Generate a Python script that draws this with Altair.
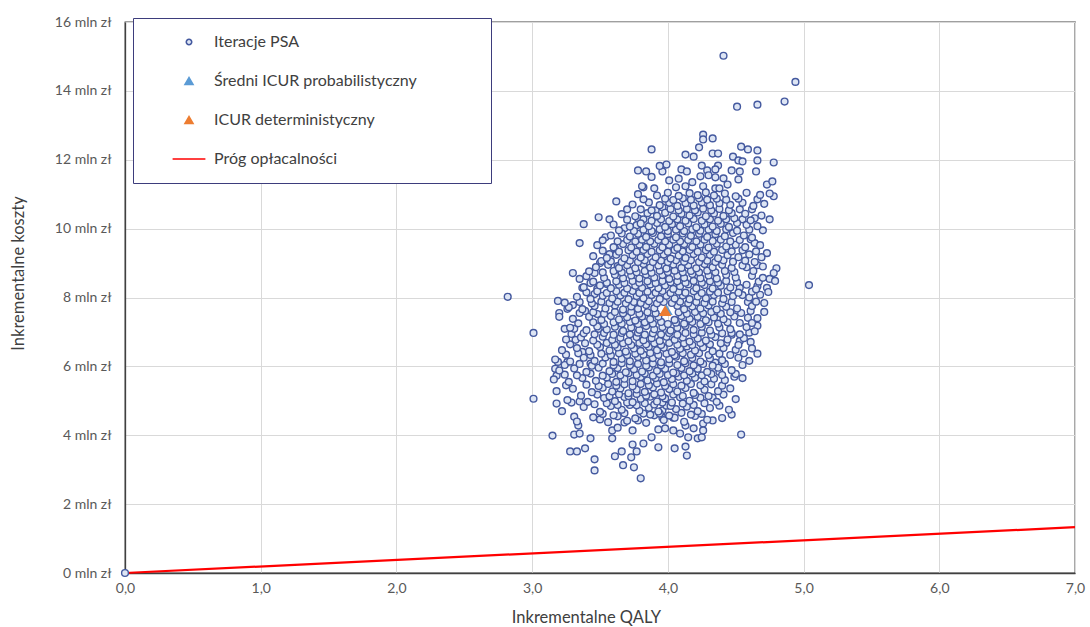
import altair as alt
import pandas as pd

series_names = ["Iteracje PSA", "Średni ICUR probabilistyczny", "ICUR deterministyczny", "Próg opłacalności"]

x_ticks = [0, 1, 2, 3, 4, 5, 6, 7]
y_ticks = [0, 2, 4, 6, 8, 10, 12, 14, 16]

# PSA iterations: (incremental QALY, incremental cost in mln zł)
psa_points = [
    (0.00, 0.00),
    # lower part
    (3.80, 2.75), (3.46, 2.98), (3.67, 3.13), (3.75, 3.07), (3.61, 3.39), (3.46, 3.30), (3.28, 3.53), (3.33, 3.53),
    (3.39, 3.62), (3.73, 3.36), (3.77, 3.53), (3.66, 3.53), (3.74, 3.73), (3.82, 3.76), (3.93, 3.65), (3.59, 3.91),
    (3.43, 3.91), (3.15, 3.99), (3.31, 4.02), (3.35, 4.05), (4.14, 3.41), (4.05, 3.62), (4.13, 3.67), (4.22, 3.91),
    (4.25, 3.94), (4.15, 3.94), (4.54, 4.02), (4.47, 4.60), (4.38, 4.86), (4.49, 5.70), (4.66, 6.37), (4.47, 6.92),
    (4.53, 6.74), (4.61, 6.71), (4.43, 6.68), (4.38, 5.84), (4.35, 6.11), (4.33, 5.09), (4.33, 4.43), (4.26, 4.34),
    (4.26, 4.14), (3.01, 5.06), (3.18, 4.92), (3.29, 4.95), (3.35, 4.98), (3.17, 5.93), (3.19, 6.13), (3.18, 5.73),
    (3.26, 6.13), (3.43, 6.08), (3.37, 6.42), (3.29, 6.94), (3.32, 6.77), (3.31, 4.54), (3.34, 4.28), (3.50, 4.46),
    (3.59, 4.14), (3.63, 4.22), (3.68, 4.37), (3.74, 4.14), (3.78, 4.43), (3.82, 4.63), (3.88, 3.94), (3.93, 4.17),
    (3.96, 4.51), (3.98, 4.20), (4.04, 4.14), (4.09, 4.05), (3.96, 4.72), (4.04, 4.51), (4.13, 4.28), (4.19, 4.20),
    # left edge
    (3.62, 10.79), (3.70, 10.56), (3.49, 10.33), (3.57, 10.27), (3.38, 10.13), (3.35, 9.58), (3.54, 9.75), (3.68, 10.01),
    (3.78, 10.30), (3.82, 10.27), (3.77, 10.10), (3.91, 10.53), (3.96, 10.62), (3.90, 11.17), (3.82, 11.20), (3.30, 8.71),
    (3.46, 8.71), (3.35, 8.54), (3.43, 8.42), (3.37, 8.28), (3.48, 8.25), (3.46, 8.10), (2.82, 8.02), (3.19, 7.90),
    (3.20, 7.55), (3.20, 7.44), (3.26, 7.67), (3.30, 7.78), (3.39, 7.61), (3.48, 7.52), (3.24, 7.09), (3.31, 7.09),
    (3.49, 7.09), (3.01, 6.97), (3.50, 9.00), (3.51, 9.06), (3.57, 9.26), (3.61, 9.43), (3.63, 8.91), (3.55, 8.39),
    # top
    (3.88, 12.30), (3.78, 11.69), (3.84, 11.66), (3.81, 11.23), (3.96, 11.66), (4.41, 15.02), (4.94, 14.26), (4.86, 13.69),
    (4.51, 13.54), (4.66, 13.60), (4.26, 12.73), (4.26, 12.59), (4.33, 12.62), (4.23, 12.36), (4.54, 12.38), (4.59, 12.30),
    (4.66, 12.27), (4.13, 12.15), (4.19, 12.09), (4.33, 12.18), (4.37, 12.18), (4.48, 12.09), (4.52, 11.98), (4.55, 11.95),
    (4.66, 11.98), (4.78, 11.92), (3.99, 11.86), (4.25, 11.83), (4.37, 11.83), (4.10, 11.72), (4.14, 11.66), (4.29, 11.69),
    (4.35, 11.72), (4.47, 11.69), (4.53, 11.66), (4.65, 11.66), (4.24, 11.52), (4.30, 11.55), (4.35, 11.49), (4.41, 11.46),
    (4.44, 11.28), (4.52, 11.43), (4.73, 11.28), (4.77, 11.37), (4.06, 11.20), (4.13, 11.23), (4.26, 11.23), (4.35, 11.17),
    (4.38, 11.17), (3.94, 11.82), (4.01, 11.40), (4.08, 11.45), (4.18, 11.35), (3.88, 11.50),
    # right edge
    (4.78, 10.94), (4.75, 11.02), (4.64, 10.30), (4.75, 10.27), (4.53, 10.56), (4.55, 10.27), (4.51, 10.16), (4.61, 9.69),
    (4.64, 9.58), (4.73, 9.29), (4.69, 9.17), (4.66, 8.94), (4.58, 8.88), (4.80, 8.85), (4.78, 8.71), (4.75, 8.54),
    (4.79, 8.48), (4.66, 8.33), (4.73, 8.28), (4.74, 8.16), (5.04, 8.36), (4.53, 8.28), (4.55, 8.07), (4.59, 7.87),
    (4.71, 7.84), (4.71, 7.58), (4.61, 7.61), (4.59, 7.41), (4.53, 7.26), (4.66, 7.18), (4.47, 6.97), (4.49, 10.30),
    (4.47, 10.45),
    # core
    (3.33, 4.40), (3.45, 4.52), (3.56, 4.38), (3.63, 4.55), (3.70, 4.42), (3.76, 4.49), (3.84, 4.36), (3.90, 4.58),
    (3.97, 4.44), (4.05, 4.51), (4.12, 4.39), (4.20, 4.56), (4.29, 4.45), (4.40, 4.50),
    (3.52, 4.62), (3.60, 4.58), (3.68, 4.64), (3.87, 4.60), (3.94, 4.63), (4.01, 4.57), (4.10, 4.65), (4.17, 4.60), (4.25, 4.62),
    (3.22, 4.70), (3.38, 4.82), (3.50, 4.68), (3.58, 4.85), (3.66, 4.74), (3.72, 4.88), (3.79, 4.71), (3.86, 4.80),
    (3.93, 4.69), (3.99, 4.86), (4.06, 4.76), (4.14, 4.83), (4.22, 4.70), (4.31, 4.79), (4.45, 4.74),
    (3.46, 4.90), (3.55, 4.93), (3.63, 4.88), (3.70, 4.95), (3.77, 4.87), (3.83, 4.93), (3.90, 4.89), (3.96, 4.95),
    (4.02, 4.85), (4.11, 4.92), (4.19, 4.88), (4.27, 4.93),
    (3.26, 5.02), (3.41, 4.97), (3.53, 5.08), (3.61, 4.99), (3.68, 5.11), (3.74, 4.96), (3.80, 5.06), (3.87, 5.12),
    (3.92, 4.98), (3.98, 5.07), (4.03, 4.95), (4.09, 5.10), (4.16, 5.00), (4.24, 5.09), (4.36, 4.97), (4.50, 5.05),
    (3.36, 5.15), (3.48, 5.18), (3.57, 5.13), (3.64, 5.19), (3.71, 5.14), (3.77, 5.20), (3.84, 5.15), (3.90, 5.19),
    (3.96, 5.13), (4.04, 5.18), (4.11, 5.14), (4.20, 5.17), (4.30, 5.14), (4.41, 5.18),
    (3.18, 5.28), (3.30, 5.35), (3.44, 5.25), (3.52, 5.38), (3.59, 5.27), (3.65, 5.36), (3.71, 5.22), (3.77, 5.33),
    (3.83, 5.26), (3.89, 5.39), (3.95, 5.24), (4.01, 5.34), (4.07, 5.27), (4.13, 5.37), (4.19, 5.23), (4.27, 5.32),
    (4.37, 5.28), (4.46, 5.36),
    (3.25, 5.45), (3.40, 5.47), (3.49, 5.43), (3.56, 5.49), (3.62, 5.44), (3.68, 5.48), (3.74, 5.42), (3.80, 5.49),
    (3.86, 5.45), (3.92, 5.50), (3.98, 5.43), (4.04, 5.48), (4.10, 5.44), (4.17, 5.49), (4.24, 5.45), (4.32, 5.48), (4.40, 5.44),
    (3.16, 5.62), (3.27, 5.55), (3.37, 5.66), (3.47, 5.58), (3.55, 5.68), (3.62, 5.55), (3.68, 5.64), (3.74, 5.57),
    (3.80, 5.69), (3.85, 5.59), (3.91, 5.66), (3.97, 5.54), (4.03, 5.63), (4.08, 5.70), (4.14, 5.58), (4.20, 5.67),
    (4.27, 5.56), (4.34, 5.64), (4.42, 5.60), (4.55, 5.66),
    (3.24, 5.76), (3.33, 5.74), (3.43, 5.79), (3.52, 5.73), (3.59, 5.78), (3.65, 5.74), (3.71, 5.80), (3.77, 5.75),
    (3.83, 5.79), (3.89, 5.73), (3.94, 5.78), (4.00, 5.75), (4.06, 5.80), (4.12, 5.74), (4.18, 5.79), (4.25, 5.74),
    (4.32, 5.78), (4.40, 5.75), (4.50, 5.78),
    (3.20, 5.88), (3.31, 5.94), (3.40, 5.84), (3.49, 5.96), (3.57, 5.86), (3.63, 5.95), (3.69, 5.83), (3.75, 5.92),
    (3.81, 5.85), (3.86, 5.97), (3.92, 5.87), (3.98, 5.93), (4.04, 5.82), (4.10, 5.95), (4.16, 5.86), (4.22, 5.93),
    (4.29, 5.84), (4.37, 5.96), (4.47, 5.89),
    (3.24, 6.04), (3.35, 6.07), (3.44, 6.02), (3.52, 6.08), (3.60, 6.03), (3.66, 6.09), (3.72, 6.03), (3.78, 6.07),
    (3.84, 6.02), (3.89, 6.08), (3.95, 6.03), (4.01, 6.08), (4.07, 6.04), (4.13, 6.09), (4.19, 6.03), (4.26, 6.07),
    (4.33, 6.02), (4.42, 6.07), (4.55, 6.04),
    (3.17, 6.20), (3.28, 6.14), (3.38, 6.25), (3.46, 6.16), (3.54, 6.26), (3.60, 6.13), (3.66, 6.22), (3.72, 6.15),
    (3.78, 6.27), (3.84, 6.17), (3.89, 6.24), (3.95, 6.12), (4.01, 6.21), (4.06, 6.28), (4.12, 6.15), (4.18, 6.24),
    (4.24, 6.14), (4.31, 6.23), (4.40, 6.18), (4.52, 6.25), (4.60, 6.16),
    (3.25, 6.34), (3.34, 6.38), (3.43, 6.33), (3.51, 6.37), (3.58, 6.32), (3.64, 6.38), (3.70, 6.33), (3.76, 6.37),
    (3.82, 6.34), (3.87, 6.39), (3.93, 6.33), (3.99, 6.37), (4.05, 6.32), (4.11, 6.38), (4.17, 6.34), (4.23, 6.38),
    (4.30, 6.33), (4.38, 6.37), (4.46, 6.33), (4.56, 6.38),
    (3.22, 6.47), (3.33, 6.53), (3.42, 6.44), (3.50, 6.56), (3.57, 6.46), (3.63, 6.55), (3.69, 6.43), (3.75, 6.52),
    (3.80, 6.45), (3.86, 6.57), (3.92, 6.47), (3.97, 6.54), (4.03, 6.42), (4.09, 6.51), (4.14, 6.58), (4.20, 6.46),
    (4.26, 6.55), (4.33, 6.44), (4.41, 6.53), (4.50, 6.48), (4.62, 6.52),
    (3.28, 6.64), (3.39, 6.67), (3.48, 6.63), (3.55, 6.68), (3.61, 6.63), (3.67, 6.67), (3.73, 6.62), (3.79, 6.68),
    (3.84, 6.64), (3.90, 6.67), (3.95, 6.62), (4.01, 6.68), (4.07, 6.63), (4.12, 6.67), (4.18, 6.62), (4.24, 6.68),
    (4.31, 6.64), (4.39, 6.67), (4.52, 6.62),
    (3.25, 6.78), (3.36, 6.84), (3.45, 6.75), (3.52, 6.86), (3.59, 6.77), (3.65, 6.83), (3.71, 6.73), (3.77, 6.85),
    (3.82, 6.76), (3.88, 6.82), (3.94, 6.74), (3.99, 6.86), (4.05, 6.77), (4.11, 6.84), (4.16, 6.72), (4.22, 6.81),
    (4.28, 6.75), (4.35, 6.85), (4.44, 6.78), (4.56, 6.82),
    (3.38, 6.96), (3.46, 6.93), (3.53, 6.97), (3.60, 6.92), (3.66, 6.97), (3.72, 6.93), (3.78, 6.98), (3.83, 6.92),
    (3.89, 6.96), (3.95, 6.93), (4.01, 6.97), (4.07, 6.92), (4.13, 6.97), (4.19, 6.93), (4.25, 6.98), (4.32, 6.92),
    (4.40, 6.96), (4.53, 6.93), (4.60, 6.98),
    (3.28, 7.12), (3.40, 7.05), (3.48, 7.16), (3.55, 7.07), (3.61, 7.15), (3.67, 7.03), (3.73, 7.13), (3.79, 7.06),
    (3.84, 7.17), (3.90, 7.08), (3.96, 7.14), (4.02, 7.04), (4.07, 7.12), (4.13, 7.18), (4.19, 7.06), (4.25, 7.15),
    (4.31, 7.04), (4.38, 7.13), (4.46, 7.08), (4.58, 7.14), (4.64, 7.02),
    (3.34, 7.25), (3.45, 7.28), (3.53, 7.23), (3.60, 7.28), (3.66, 7.24), (3.72, 7.29), (3.78, 7.23), (3.83, 7.28),
    (3.89, 7.24), (3.95, 7.29), (4.00, 7.23), (4.06, 7.27), (4.12, 7.24), (4.18, 7.29), (4.24, 7.23), (4.30, 7.28),
    (4.37, 7.24), (4.44, 7.28), (4.62, 7.26),
    (3.30, 7.38), (3.42, 7.44), (3.51, 7.35), (3.58, 7.46), (3.64, 7.36), (3.70, 7.43), (3.76, 7.33), (3.81, 7.45),
    (3.87, 7.37), (3.93, 7.44), (4.05, 7.35), (4.10, 7.46), (4.16, 7.38), (4.22, 7.44), (4.28, 7.34), (4.34, 7.42),
    (4.41, 7.37), (4.49, 7.45), (4.66, 7.40),
    (3.35, 7.55), (3.45, 7.57), (3.53, 7.53), (3.61, 7.58), (3.67, 7.54), (3.73, 7.58), (3.79, 7.53), (3.85, 7.57),
    (3.91, 7.54), (4.08, 7.57), (4.14, 7.53), (4.20, 7.58), (4.26, 7.54), (4.32, 7.58), (4.39, 7.53), (4.46, 7.57), (4.54, 7.55),
    (3.27, 7.72), (3.37, 7.66), (3.46, 7.75), (3.54, 7.68), (3.61, 7.77), (3.67, 7.65), (3.73, 7.74), (3.78, 7.67),
    (3.84, 7.78), (3.90, 7.69), (4.07, 7.76), (4.12, 7.66), (4.18, 7.74), (4.24, 7.68), (4.30, 7.77), (4.36, 7.65),
    (4.43, 7.73), (4.51, 7.68), (4.62, 7.75),
    (3.24, 7.85), (3.35, 7.87), (3.44, 7.83), (3.51, 7.88), (3.57, 7.84), (3.63, 7.88), (3.69, 7.83), (3.75, 7.87),
    (3.80, 7.84), (3.86, 7.89), (3.92, 7.83), (3.97, 7.87), (4.03, 7.84), (4.09, 7.88), (4.15, 7.83), (4.21, 7.87),
    (4.27, 7.84), (4.33, 7.88), (4.40, 7.83), (4.47, 7.87), (4.65, 7.88),
    (3.33, 8.02), (3.43, 7.96), (3.52, 8.05), (3.59, 7.97), (3.65, 8.06), (3.71, 7.95), (3.77, 8.04), (3.82, 7.98),
    (3.88, 8.07), (3.94, 7.96), (3.99, 8.05), (4.05, 7.97), (4.11, 8.06), (4.16, 7.95), (4.22, 8.03), (4.28, 7.98),
    (4.34, 8.07), (4.41, 7.96), (4.48, 8.04), (4.60, 8.00), (4.68, 8.08),
    (3.40, 8.15), (3.48, 8.18), (3.55, 8.13), (3.62, 8.18), (3.68, 8.14), (3.74, 8.19), (3.79, 8.13), (3.85, 8.17),
    (3.91, 8.14), (3.96, 8.19), (4.02, 8.13), (4.08, 8.17), (4.13, 8.14), (4.19, 8.18), (4.25, 8.13), (4.31, 8.17),
    (4.37, 8.14), (4.44, 8.18), (4.52, 8.14), (4.62, 8.17),
    (3.38, 8.30), (3.50, 8.35), (3.58, 8.27), (3.64, 8.37), (3.70, 8.26), (3.76, 8.34), (3.81, 8.28), (3.87, 8.38),
    (3.93, 8.27), (3.98, 8.35), (4.04, 8.25), (4.09, 8.33), (4.15, 8.38), (4.21, 8.27), (4.27, 8.36), (4.33, 8.26),
    (4.39, 8.34), (4.46, 8.29), (4.58, 8.37), (4.65, 8.24),
    (3.45, 8.46), (3.55, 8.43), (3.62, 8.47), (3.68, 8.42), (3.74, 8.48), (3.79, 8.43), (3.85, 8.47), (3.91, 8.42),
    (3.96, 8.48), (4.02, 8.44), (4.07, 8.47), (4.13, 8.43), (4.19, 8.48), (4.25, 8.43), (4.31, 8.47), (4.37, 8.43),
    (4.43, 8.48), (4.51, 8.44), (4.67, 8.46),
    (3.40, 8.62), (3.53, 8.57), (3.61, 8.66), (3.67, 8.56), (3.73, 8.64), (3.79, 8.55), (3.84, 8.67), (3.90, 8.58),
    (3.96, 8.65), (4.01, 8.54), (4.07, 8.63), (4.12, 8.57), (4.18, 8.68), (4.24, 8.56), (4.30, 8.64), (4.36, 8.55),
    (4.43, 8.66), (4.50, 8.58), (4.62, 8.63), (4.70, 8.57),
    (3.42, 8.76), (3.52, 8.73), (3.60, 8.77), (3.66, 8.73), (3.72, 8.78), (3.77, 8.73), (3.83, 8.77), (3.88, 8.72),
    (3.94, 8.78), (4.00, 8.74), (4.05, 8.78), (4.11, 8.73), (4.17, 8.77), (4.23, 8.73), (4.29, 8.78), (4.35, 8.73),
    (4.42, 8.77), (4.49, 8.74), (4.63, 8.77),
    (3.47, 8.88), (3.56, 8.95), (3.64, 8.86), (3.70, 8.94), (3.76, 8.85), (3.82, 8.97), (3.87, 8.87), (3.93, 8.93),
    (3.99, 8.84), (4.04, 8.96), (4.10, 8.86), (4.15, 8.94), (4.21, 8.85), (4.27, 8.97), (4.33, 8.88), (4.40, 8.95),
    (4.47, 8.86), (4.55, 8.93), (4.70, 8.90),
    (3.58, 9.05), (3.66, 9.03), (3.72, 9.07), (3.78, 9.03), (3.83, 9.08), (3.89, 9.03), (3.95, 9.07), (4.00, 9.03),
    (4.06, 9.08), (4.12, 9.04), (4.17, 9.08), (4.23, 9.03), (4.29, 9.07), (4.35, 9.03), (4.41, 9.08), (4.48, 9.04),
    (4.57, 9.07), (4.64, 9.03),
    (3.45, 9.20), (3.55, 9.15), (3.62, 9.24), (3.68, 9.14), (3.74, 9.23), (3.80, 9.16), (3.85, 9.26), (3.91, 9.17),
    (3.97, 9.25), (4.02, 9.13), (4.08, 9.22), (4.13, 9.15), (4.19, 9.26), (4.25, 9.16), (4.31, 9.24), (4.37, 9.14),
    (4.44, 9.23), (4.52, 9.17), (4.60, 9.25),
    (3.52, 9.36), (3.64, 9.33), (3.71, 9.37), (3.77, 9.33), (3.82, 9.38), (3.88, 9.33), (3.94, 9.37), (4.00, 9.33),
    (4.05, 9.38), (4.11, 9.34), (4.16, 9.38), (4.22, 9.33), (4.28, 9.37), (4.34, 9.33), (4.40, 9.38), (4.47, 9.34),
    (4.55, 9.37), (4.65, 9.34),
    (3.48, 9.52), (3.60, 9.46), (3.67, 9.55), (3.73, 9.45), (3.79, 9.54), (3.84, 9.47), (3.90, 9.56), (3.96, 9.46),
    (4.01, 9.53), (4.07, 9.44), (4.12, 9.55), (4.18, 9.47), (4.24, 9.54), (4.30, 9.45), (4.36, 9.56), (4.43, 9.48),
    (4.50, 9.53), (4.57, 9.46), (4.68, 9.52),
    (3.52, 9.66), (3.63, 9.63), (3.70, 9.67), (3.76, 9.63), (3.81, 9.68), (3.87, 9.63), (3.93, 9.67), (3.98, 9.63),
    (4.04, 9.68), (4.09, 9.63), (4.15, 9.67), (4.21, 9.63), (4.27, 9.68), (4.33, 9.64), (4.39, 9.68), (4.46, 9.63), (4.53, 9.67),
    (3.58, 9.80), (3.66, 9.86), (3.72, 9.77), (3.78, 9.85), (3.84, 9.76), (3.89, 9.87), (3.95, 9.78), (4.00, 9.84),
    (4.06, 9.75), (4.11, 9.86), (4.17, 9.79), (4.23, 9.85), (4.29, 9.76), (4.35, 9.84), (4.42, 9.78), (4.48, 9.87),
    (4.56, 9.80), (4.62, 9.74),
    (3.64, 9.95), (3.75, 9.93), (3.82, 9.97), (3.88, 9.93), (3.94, 9.98), (4.00, 9.93), (4.06, 9.97), (4.12, 9.93),
    (4.18, 9.98), (4.24, 9.94), (4.30, 9.97), (4.36, 9.93), (4.43, 9.98), (4.51, 9.94), (4.60, 9.97), (4.70, 9.95),
    (3.60, 10.12), (3.72, 10.06), (3.80, 10.15), (3.86, 10.07), (3.92, 10.16), (3.98, 10.05), (4.03, 10.13), (4.09, 10.07),
    (4.15, 10.15), (4.21, 10.04), (4.27, 10.12), (4.33, 10.06), (4.39, 10.14), (4.45, 10.05), (4.58, 10.11), (4.66, 10.07),
    (3.70, 10.26), (3.88, 10.23), (3.95, 10.27), (4.01, 10.22), (4.07, 10.27), (4.13, 10.23), (4.19, 10.28), (4.25, 10.23),
    (4.31, 10.27), (4.37, 10.23), (4.43, 10.27), (4.61, 10.24),
    (3.66, 10.42), (3.76, 10.36), (3.85, 10.45), (3.92, 10.37), (3.98, 10.46), (4.04, 10.35), (4.10, 10.43), (4.16, 10.38),
    (4.22, 10.47), (4.28, 10.36), (4.34, 10.44), (4.41, 10.37), (4.57, 10.43), (4.69, 10.38),
    (3.80, 10.56), (3.88, 10.53), (4.02, 10.57), (4.08, 10.53), (4.14, 10.57), (4.20, 10.53), (4.26, 10.58), (4.32, 10.53),
    (4.38, 10.57), (4.45, 10.53), (4.62, 10.56),
    (3.74, 10.70), (3.86, 10.76), (3.94, 10.68), (4.01, 10.75), (4.07, 10.66), (4.13, 10.74), (4.19, 10.67), (4.25, 10.76),
    (4.31, 10.68), (4.38, 10.74), (4.46, 10.69), (4.55, 10.75), (4.63, 10.66), (4.71, 10.72),
    (3.82, 10.85), (3.98, 10.87), (4.04, 10.83), (4.11, 10.88), (4.17, 10.84), (4.23, 10.88), (4.29, 10.84), (4.36, 10.87),
    (4.43, 10.84), (4.52, 10.87), (4.66, 10.85),
    (3.78, 11.00), (3.92, 10.96), (4.00, 11.04), (4.08, 10.95), (4.16, 11.03), (4.22, 10.97), (4.28, 11.05), (4.34, 10.96),
    (4.42, 11.02), (4.50, 10.94), (4.58, 11.04), (4.68, 10.98),
]

mean_icur = (3.99, 7.64)   # Średni ICUR probabilistyczny
det_icur = (3.98, 7.61)    # ICUR deterministyczny

threshold_qaly = [0.0, 7.0]
threshold_cost = [0.0, 1.33]

series_fill = ["#dde5f4", "#5b9bd5", "#ed7d31", "transparent"]
series_stroke = ["#44599f", "#5b9bd5", "#ed7d31", "#ff0000"]
# small circle path, two triangles, and a long horizontal stroke for the legend line
series_shape = [
    "M-0.68,0A0.68,0.68 0 1,0 0.68,0A0.68,0.68 0 1,0 -0.68,0Z",
    "triangle-up",
    "triangle-up",
    "M-4.1,0H4.1",
]

rows = [{"qaly": x, "cost": y, "series": series_names[0]} for x, y in psa_points]
rows.append({"qaly": mean_icur[0], "cost": mean_icur[1], "series": series_names[1]})
rows.append({"qaly": det_icur[0], "cost": det_icur[1], "series": series_names[2]})
pts_df = pd.DataFrame(rows)
line_df = pd.DataFrame({"qaly": threshold_qaly, "cost": threshold_cost,
                        "series": [series_names[3]] * len(threshold_qaly)})

FONT = "Lato"

# an invisible (non-breaking space) title placed on the right widens the legend box
legend = alt.Legend(
    title="\u00a0", titleOrient="right", titlePadding=58, titleFontSize=4,
    orient="none", legendX=8, legendY=-4,
    strokeColor="#3d3d7c", fillColor="white", padding=16,
    labelFont=FONT, labelFontSize=16, labelColor="#404040", labelLimit=500,
    rowPadding=23, labelOffset=17, symbolOffset=32, symbolSize=64, symbolStrokeWidth=1.6,
)

x_enc = alt.X("qaly:Q", scale=alt.Scale(domain=[0, 7], nice=False),
              axis=alt.Axis(values=x_ticks, title="Inkrementalne QALY", labelFlush=False,
                            labelExpr="replace(format(datum.value, '.1f'), '.', ',')",
                            titleX=461, titleY=44, titleBaseline="middle", titleAlign="center"))
y_enc = alt.Y("cost:Q", scale=alt.Scale(domain=[0, 16], nice=False),
              axis=alt.Axis(values=y_ticks, title="Inkrementalne koszty", labelFlush=False,
                            labelExpr="datum.value + ' mln zł'",
                            titleX=-107, titleY=251, titleBaseline="middle", titleAlign="center"))

shape_enc = alt.Shape("series:N", scale=alt.Scale(domain=series_names, range=series_shape), legend=legend)
fill_enc = alt.Fill("series:N", scale=alt.Scale(domain=series_names, range=series_fill), legend=legend)
stroke_enc = alt.Stroke("series:N", scale=alt.Scale(domain=series_names, range=series_stroke), legend=legend)

line = alt.Chart(line_df).mark_line(strokeWidth=2.2).encode(x=x_enc, y=y_enc, stroke=stroke_enc)
points = alt.Chart(pts_df).mark_point(filled=True, opacity=1, strokeWidth=1.4, size=100).encode(
    x=x_enc, y=y_enc, shape=shape_enc, fill=fill_enc, stroke=stroke_enc
)

chart = alt.layer(line, points).properties(
    width=950, height=551,
    autosize=alt.AutoSizeParams(type="none"),
    padding={"left": 125, "top": 22, "right": 15, "bottom": 54},
    background="white",
).configure_view(
    stroke="#404040", strokeWidth=1.3
).configure_axis(
    grid=True, gridColor="#d9d9d9", gridWidth=1,
    domainColor="#404040", domainWidth=1.3, ticks=False,
    labelFont=FONT, labelFontSize=14, labelColor="#595959",
    titleFont=FONT, titleFontSize=16.5, titleColor="#404040", titleFontWeight="normal",
).configure_axisY(labelPadding=14).configure_axisX(labelPadding=8)

chart.save("out.html", embed_options={"renderer": "svg", "actions": False})
